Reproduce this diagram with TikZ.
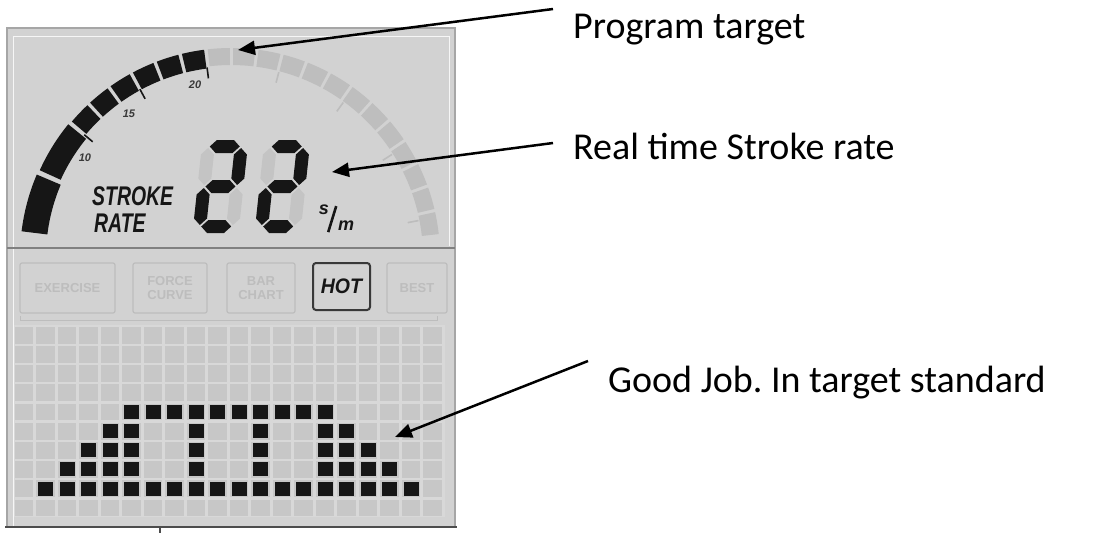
\documentclass[tikz,border=0pt]{standalone}
\usepackage{fontspec}
\usepackage{graphicx}
\setmainfont{Carlito}
\newfontfamily\lcdfont{Liberation Sans}
\usetikzlibrary{arrows.meta}
\frenchspacing
\definecolor{lcdbg}{HTML}{D2D2D2}
\definecolor{lcdink}{HTML}{161616}
\definecolor{ghost}{HTML}{C4C4C4}
\definecolor{cellc}{HTML}{C7C7C7}
\definecolor{gridbg}{HTML}{D8D8D8}
\definecolor{faint}{HTML}{BDBDBD}
\definecolor{arcgray}{HTML}{BEBEBE}
\newcommand{\hsg}[4][]{\fill[#1] (#2,#4) -- ({#2+6.5},{#4-6.5}) -- ({#3-6.5},{#4-6.5}) -- (#3,#4) -- ({#3-6.5},{#4+6.5}) -- ({#2+6.5},{#4+6.5}) -- cycle;}
\newcommand{\vsg}[4][]{\fill[#1] (#4,#2) -- ({#4+6.5},{#2+6.5}) -- ({#4+6.5},{#3-6.5}) -- (#4,#3) -- ({#4-6.5},{#3-6.5}) -- ({#4-6.5},{#2+6.5}) -- cycle;}
\newcommand{\digittwo}{%
  \vsg[fill=ghost]{-85}{-48}{7}
  \vsg[fill=ghost]{-45}{-8}{40}
  \hsg[fill=lcdink]{8.5}{38.5}{-86.5}
  \vsg[fill=lcdink]{-85}{-48}{40}
  \hsg[fill=lcdink]{8.5}{38.5}{-46.5}
  \vsg[fill=lcdink]{-45}{-8}{7}
  \hsg[fill=lcdink]{8.5}{38.5}{-6.5}}
\newcommand{\arcsec}[5][]{\fill[#1] (#2:#4) arc[start angle=#2, end angle=#3, radius=#4] -- (#3:#5) arc[start angle=#3, end angle=#2, radius=#5] -- cycle;}
\tikzset{
  ann/.style={font=\fontsize{38}{44}\selectfont, inner sep=0pt, anchor=base west, text=black},
  arr/.style={line width=2.5pt, -{Triangle[length=17pt,width=14pt]}},
  lcdlbl/.style={font=\lcdfont\bfseries\itshape\fontsize{27}{27}\selectfont, inner sep=0pt, anchor=base west, text=lcdink},
  numlbl/.style={font=\lcdfont\bfseries\itshape\fontsize{11}{11}\selectfont, inner sep=0pt, text=lcdink!85},
  btn/.style={draw=faint, line width=1.2pt, rounded corners=2pt, minimum height=50pt, inner sep=0pt, text=faint, align=center, font=\lcdfont\bfseries\fontsize{13}{14}\selectfont},
  hotbtn/.style={draw=lcdink!85, line width=2pt, rounded corners=3pt, minimum height=47pt, minimum width=57pt, inner sep=0pt, text=lcdink, font=\lcdfont\bfseries\itshape\fontsize{21}{21}\selectfont},
}
\begin{document}
\begin{tikzpicture}[x=1pt,y=-1pt]
\useasboundingbox (0,0) rectangle (1109,533);
\fill[white] (0,0) rectangle (1109,533);
% panel
\fill[lcdbg] (7,28) rectangle (455,527);
\draw[color=black!35, line width=1.5pt] (7,527) -- (7,28) -- (455,28) -- (455,527);
\draw[color=white!80!lcdbg, line width=1pt] (13,527) -- (13,36) -- (449,36) -- (449,246);
\draw[color=black!50, line width=2.5pt] (7,248) -- (455,248);
% arc gauge
\begin{scope}[shift={(231,257)}, yscale=-1]
  \arcsec[lcdink]{173}{157}{211}{185}
  \arcsec[lcdink]{155.6}{140.8}{210}{187}
  \foreach \k in {0,...,5}{
    \pgfmathsetmacro{\aa}{139.6-7.2*\k}
    \pgfmathsetmacro{\bb}{\aa-6.2}
    \arcsec[lcdink]{\aa}{\bb}{209}{190}
  }
  \foreach \k in {0,...,12}{
    \pgfmathsetmacro{\aa}{96.4-7*\k}
    \pgfmathsetmacro{\bb}{\aa-6.1}
    \arcsec[arcgray]{\aa}{\bb}{209}{192}
  }
  \foreach \t in {140.2,118.5,97.2}{
    \draw[lcdink, line width=1.6pt] (\t:191) -- (\t:180);
  }
  \foreach \t in {75.5,54,32.5,11}{
    \draw[faint, line width=1.6pt] (\t:191) -- (\t:180);
  }
\end{scope}
\node[numlbl] (n10) at (85,158) {10};
\node[numlbl] (n15) at (129,114) {15};
\node[numlbl] (n20) at (195,85) {20};
% labels
\node[lcdlbl] (stroke) at (92,205) {\scalebox{0.72}[1]{STROKE}};
\node[lcdlbl] (rate) at (94,232) {\scalebox{0.72}[1]{RATE}};
% digits
\begin{scope}[shift={(192,233)}, xslant=0.107]
  \digittwo
\end{scope}
\begin{scope}[shift={(254,233)}, xslant=0.107]
  \digittwo
\end{scope}
% s/m
\node[font=\lcdfont\bfseries\itshape\fontsize{18}{18}\selectfont, inner sep=0pt, text=lcdink] (su) at (324,210) {s};
\node[font=\lcdfont\bfseries\itshape\fontsize{18}{18}\selectfont, inner sep=0pt, text=lcdink] (mu) at (346,226) {m};
\draw[lcdink, line width=2.6pt] (su.south east) ++(-1,17) coordinate (sl1) -- ++(8,-26) coordinate (sl2);
% buttons
\node[btn, minimum width=95pt] (b1) at (67.5,288) {EXERCISE};
\node[btn, minimum width=74pt] (b2) at (170,288) {FORCE\\CURVE};
\node[btn, minimum width=68pt] (b3) at (261,288) {BAR\\CHART};
\node[hotbtn] (hot) at (341.5,286.5) {\scalebox{0.93}[1]{HOT}};
\node[btn, minimum width=60pt] (b5) at (417,288) {BEST};
\draw[faint, line width=1pt] (20,316) -- (20,320) -- (437,320) -- (437,316);
% dot matrix
\fill[gridbg] (13.5,325) rectangle (444.5,517);
\foreach \i in {0,...,9}{
  \foreach \j in {0,...,19}{
    \fill[cellc] ({14.75+21.5*\j},{326.8+19.2*\i}) rectangle ++(18.5,16.7);
  }
}
\foreach \j in {5,...,14}{\fill[lcdink] ({16.5+21.5*\j},{328+19.2*4}) rectangle ++(15,14);}
\foreach \j in {4,5,8,11,14,15}{\fill[lcdink] ({16.5+21.5*\j},{328+19.2*5}) rectangle ++(15,14);}
\foreach \j in {3,4,5,8,11,14,15,16}{\fill[lcdink] ({16.5+21.5*\j},{328+19.2*6}) rectangle ++(15,14);}
\foreach \j in {2,3,4,5,8,11,14,15,16,17}{\fill[lcdink] ({16.5+21.5*\j},{328+19.2*7}) rectangle ++(15,14);}
\foreach \j in {1,...,18}{\fill[lcdink] ({16.5+21.5*\j},{328+19.2*8}) rectangle ++(15,14);}
% bottom edge
\draw[black!70, line width=2pt] (5,527) -- (457,527);
\draw[black!70, line width=1.5pt] (160,527) -- (160,533);
% annotations
\node[ann] (pt) at (573,38) {Program target};
\node[ann] (rt) at (573,159) {Real time Stroke rate};
\node[ann] (gj) at (608,392) {Good Job. In target standard};
\coordinate (s1) at (553,9);
\coordinate (t1) at (238,50);
\coordinate (s2) at (553,143);
\coordinate (t2) at (332,172);
\coordinate (s3) at (588,361);
\coordinate (t3) at (395,437);
\draw[arr] (s1) -- (t1);
\draw[arr] (s2) -- (t2);
\draw[arr] (s3) -- (t3);
\end{tikzpicture}
\end{document}
